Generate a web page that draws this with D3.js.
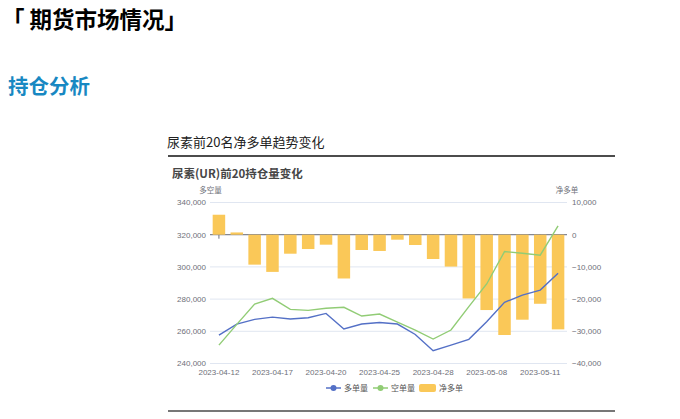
<!DOCTYPE html>
<html><head><meta charset="utf-8">
<script src="https://cdn.jsdelivr.net/npm/d3@7/dist/d3.min.js"></script>
<style>
html,body{margin:0;padding:0;background:#fff;}
svg{display:block;font-family:"Noto Sans CJK SC","Noto Sans",sans-serif;}
</style></head>
<body>
<svg id="c" width="680" height="419"></svg>
<script>
const dates = ["2023-04-12","2023-04-13","2023-04-14","2023-04-17","2023-04-18","2023-04-19","2023-04-20","2023-04-21","2023-04-24","2023-04-25","2023-04-26","2023-04-27","2023-04-28","2023-05-04","2023-05-05","2023-05-08","2023-05-09","2023-05-10","2023-05-11","2023-05-12"];
const longVol = [257600,264500,267400,268800,267600,268400,271100,261400,264500,265500,264500,258000,247900,251400,255000,265900,278000,282500,285600,296000];
const shortVol = [251400,264300,276900,280500,273600,273000,274300,274900,269500,270700,265700,260800,255200,260800,275300,289400,309500,308500,307300,325500];
const netLong = [6200,700,-9300,-11550,-5900,-4450,-3100,-13600,-4750,-5050,-1550,-3200,-7550,-9900,-19800,-23400,-31150,-26400,-21450,-29400];
const leftTicks = [240000,260000,280000,300000,320000,340000];
const rightTicks = [-40000,-30000,-20000,-10000,0,10000];
const seriesNames = ["多单量","空单量","净多单"];
const colors = ["#5470c6","#91cc75","#fac858"];

const svg = d3.select("#c");
const fmt = d3.format(",");

// page headings
svg.append("text").attr("x",2).attr("y",28).attr("font-size",22.5).attr("font-weight","bold").attr("fill","#000").text("「 期货市场情况」");
svg.append("text").attr("x",8).attr("y",94).attr("font-size",20.5).attr("font-weight","bold").attr("fill","#1888c2").text("持仓分析");

// panel
svg.append("text").attr("x",167).attr("y",146.5).attr("font-size",13).attr("fill","#222").text("尿素前20名净多单趋势变化");
svg.append("line").attr("x1",168).attr("x2",615).attr("y1",156).attr("y2",156).attr("stroke","#111").attr("stroke-width",1.3);
svg.append("line").attr("x1",168).attr("x2",615).attr("y1",411).attr("y2",411).attr("stroke","#777").attr("stroke-width",2);

svg.append("text").attr("x",172).attr("y",178).attr("font-size",11.5).attr("font-weight","bold").attr("fill","#464646").text("尿素(UR)前20持仓量变化");

const L = 210, R = 567, T = 202.5, B = 363.5;
const x = d3.scaleBand().domain(dates).range([L,R]).paddingInner(0.3).paddingOuter(0.15);
const xc = d3.scalePoint().domain(dates).range([L,R]).padding(0.5);
const yL = d3.scaleLinear().domain([240000,340000]).range([B,T]);
const yR = d3.scaleLinear().domain([-40000,10000]).range([B,T]);

// grid
svg.append("g").selectAll("line").data(leftTicks).join("line")
  .attr("x1",L).attr("x2",R).attr("y1",d=>yL(d)).attr("y2",d=>yL(d))
  .attr("stroke","#e0e6f1").attr("stroke-width",1);

// axis labels
const lab = {fill:"#6e7079","font-size":8};
svg.append("g").selectAll("text").data(leftTicks).join("text")
  .attr("x",206).attr("y",d=>yL(d)).attr("dy","0.35em").attr("text-anchor","end")
  .attr("fill","#6e7079").attr("font-size",8).attr("font-family","Liberation Sans, Arial, sans-serif").text(d=>fmt(d));
svg.append("g").selectAll("text").data(rightTicks).join("text")
  .attr("x",572).attr("y",d=>yR(d)).attr("dy","0.35em").attr("text-anchor","start")
  .attr("fill","#6e7079").attr("font-size",8).attr("font-family","Liberation Sans, Arial, sans-serif").text(d=>fmt(d));
svg.append("text").attr("x",210.5).attr("y",192.5).attr("text-anchor","middle").attr("font-size",7.5).attr("fill","#6e7079").text("多空量");
svg.append("text").attr("x",567).attr("y",192.5).attr("text-anchor","middle").attr("font-size",7.5).attr("fill","#6e7079").text("净多单");

// x labels
const labIdx = dates.filter((d,i)=>i%3===0);
svg.append("g").selectAll("text").data(labIdx).join("text")
  .attr("x",d=>xc(d)).attr("y",375).attr("text-anchor","middle")
  .attr("fill","#6e7079").attr("font-size",8).attr("font-family","Liberation Sans, Arial, sans-serif").text(d=>d);

// zero axis line + ticks
const y0 = yR(0);
svg.append("line").attr("x1",L).attr("x2",R).attr("y1",y0).attr("y2",y0).attr("stroke","#6e7079").attr("stroke-width",1);
svg.append("g").selectAll("line").data(labIdx).join("line")
  .attr("x1",d=>xc(d)).attr("x2",d=>xc(d)).attr("y1",y0).attr("y2",y0+4)
  .attr("stroke","#6e7079").attr("stroke-width",1);

// bars
svg.append("g").selectAll("rect").data(netLong).join("rect")
  .attr("x",(d,i)=>xc(dates[i]) - 6.25).attr("width",12.5)
  .attr("y",d=>Math.min(yR(d),y0)).attr("height",d=>Math.abs(yR(d)-y0))
  .attr("fill",colors[2]);

// lines
const line = d3.line().x((d,i)=>xc(dates[i])).y(d=>yL(d));
svg.append("path").datum(longVol).attr("d",line).attr("fill","none").attr("stroke",colors[0]).attr("stroke-width",1.4);
svg.append("path").datum(shortVol).attr("d",line).attr("fill","none").attr("stroke",colors[1]).attr("stroke-width",1.4);

// legend
const lg = svg.append("g");
const lx = [326,373];
[0,1].forEach(k=>{
  lg.append("line").attr("x1",lx[k]).attr("x2",lx[k]+15).attr("y1",388).attr("y2",388).attr("stroke",colors[k]).attr("stroke-width",1.5);
  lg.append("circle").attr("cx",lx[k]+7.5).attr("cy",388).attr("r",3).attr("fill",colors[k]);
  lg.append("text").attr("x",lx[k]+18).attr("y",388).attr("dy","0.35em").attr("font-size",8).attr("fill","#555").text(seriesNames[k]);
});
lg.append("rect").attr("x",419).attr("y",384).attr("width",17).attr("height",8).attr("rx",2).attr("fill",colors[2]);
lg.append("text").attr("x",439).attr("y",388).attr("dy","0.35em").attr("font-size",8).attr("fill","#555").text(seriesNames[2]);
</script>
</body></html>
